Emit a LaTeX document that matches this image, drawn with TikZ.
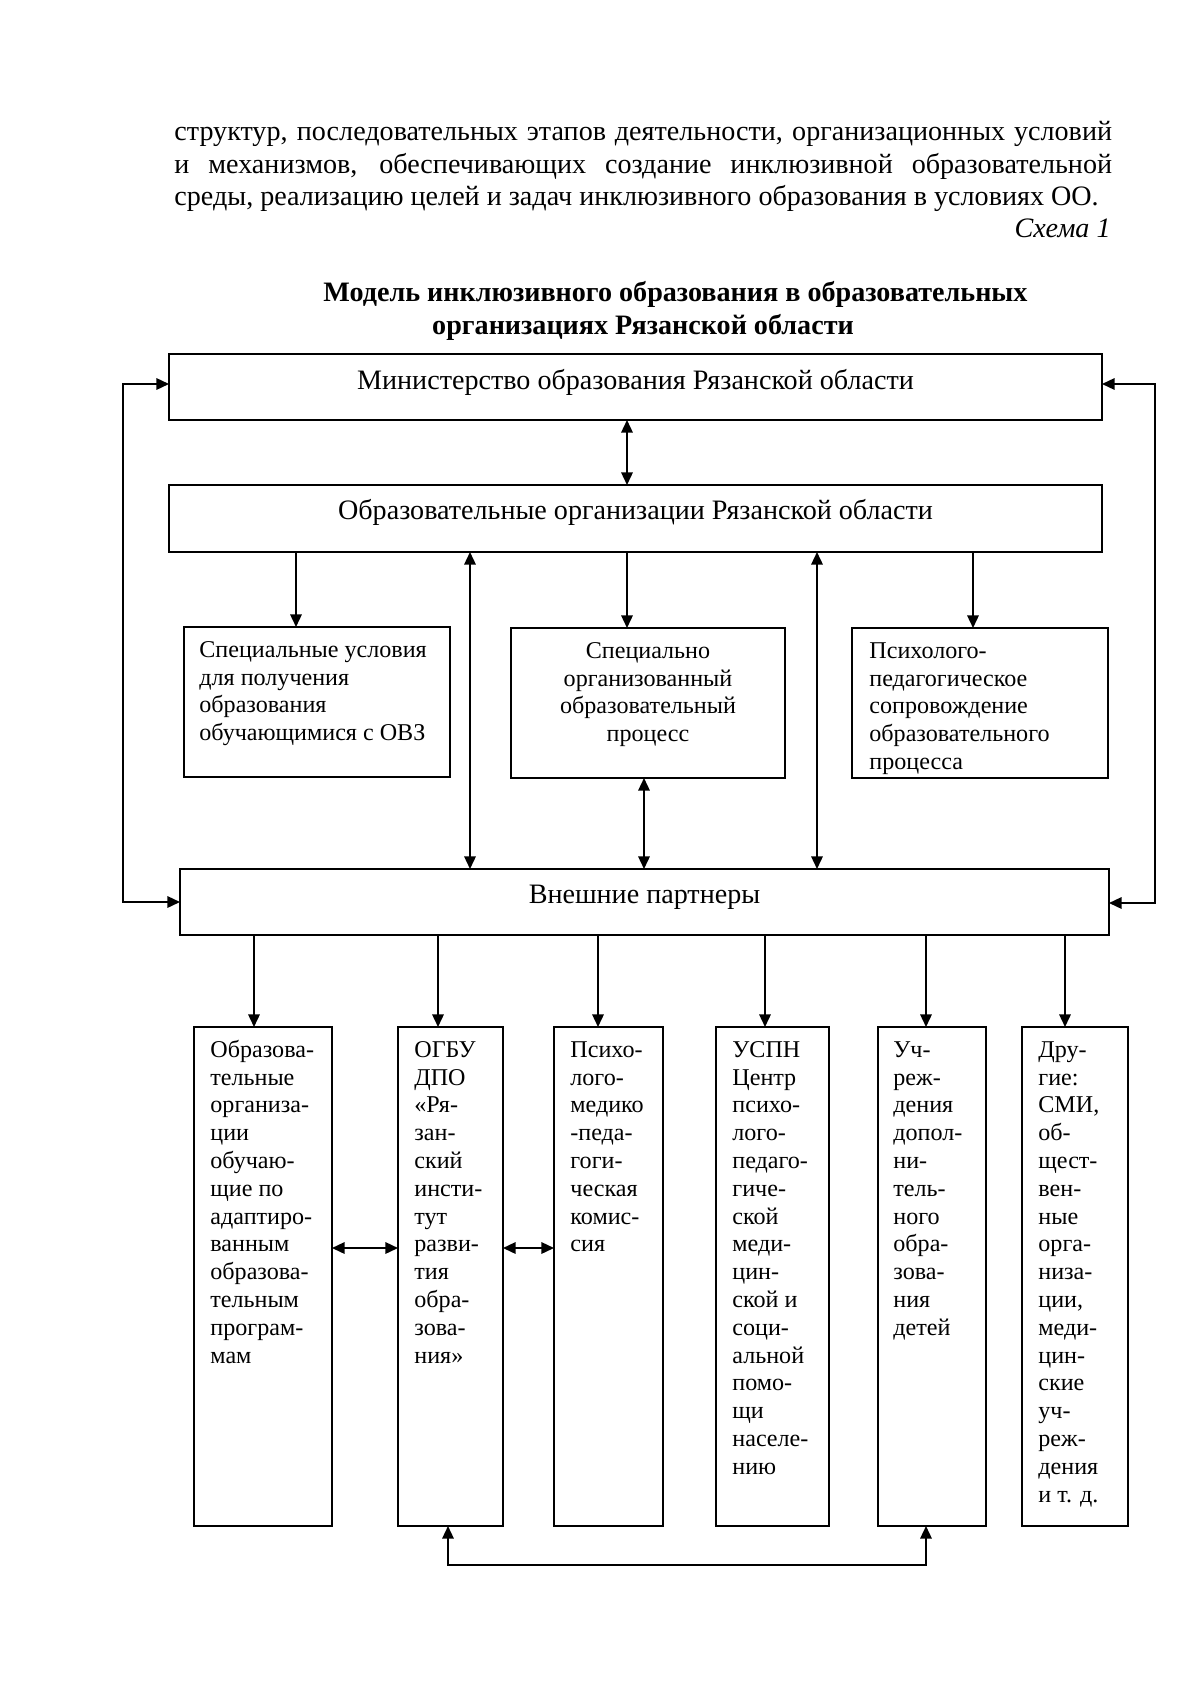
\documentclass[tikz,border=0pt]{standalone}
\usepackage{fontspec}
\setmainfont{Liberation Serif}
\usetikzlibrary{arrows.meta,calc}
\newcommand\mkbox[5]{\node[bx, minimum width={(#4-#2)*0.175mm}, minimum height={(#5-#3)*0.175mm}] (#1) at (#2,#3) {};}
\begin{document}
\begin{tikzpicture}[x=0.175mm,y=-0.175mm,
  bx/.style={draw, line width=0.37mm, inner sep=0pt, outer sep=0pt, anchor=north west},
  >={Triangle[length=2.2mm,width=2mm]},
  conn/.style={line width=0.32mm, ->},
  dconn/.style={line width=0.32mm, <->},
  t14/.style={font=\fontsize{14pt}{16.1pt}\selectfont, inner sep=0pt},
  t12/.style={font=\fontsize{12pt}{13.84pt}\selectfont, inner sep=0pt},
  ml/.style={t12, align=left, anchor=north west},
  mc/.style={t12, align=center, anchor=north}
]
\useasboundingbox (0,0) rectangle (1200,1697);
\fill[white] (0,0) rectangle (1200,1697);

% paragraph
\node[t14, anchor=base west] (p1) at (174,141) {\makebox[164.1mm][s]{структур, последовательных этапов деятельности, организационных условий}};
\node[t14, anchor=base west] (p2) at (174,173.5) {\makebox[164.1mm][s]{и механизмов, обеспечивающих создание инклюзивной образовательной}};
\node[t14, anchor=base west] (p3) at (174,206) {среды, реализацию целей и задач инклюзивного образования в условиях ОО.};
\node[t14, anchor=base east] (sch) at (1111,238) {\itshape Схема 1};

% title
\node[t14, anchor=base west] (ti1) at (323,302) {\bfseries Модель инклюзивного образования в образовательных};
\node[t14, anchor=base] (ti2) at (643,334) {\bfseries организациях Рязанской области};

% boxes
\mkbox{min}{169}{354}{1102}{420}
\mkbox{org}{169}{485}{1102}{552}
\mkbox{s1}{184}{627}{450}{777}
\mkbox{s2}{511}{628}{785}{778}
\mkbox{s3}{852}{628}{1108}{778}
\mkbox{ext}{180}{869}{1109}{935}
\mkbox{b1}{194}{1027}{332}{1526}
\mkbox{b2}{398}{1027}{503}{1526}
\mkbox{b3}{554}{1027}{663}{1526}
\mkbox{b4}{716}{1027}{829}{1526}
\mkbox{b5}{878}{1027}{986}{1526}
\mkbox{b6}{1022}{1027}{1128}{1526}

% box texts
\node[t14, anchor=base] (mint) at ($(min.north)+(0,35)$) {Министерство образования Рязанской области};
\node[t14, anchor=base] (orgt) at ($(org.north)+(0,34)$) {Образовательные организации Рязанской области};
\node[t14, anchor=base] (extt) at ($(ext.north)+(0,34)$) {Внешние партнеры};

\node[ml] (s1t) at ($(s1.north west)+(15,10.5)$) {\strut Специальные условия\\для получения\\образования\\обучающимися с ОВЗ};
\node[mc] (s2t) at ($(s2.north)+(0,10.5)$) {\strut Специально\\организованный\\образовательный\\процесс};
\node[ml] (s3t) at ($(s3.north west)+(17,10.5)$) {\strut Психолого-\\педагогическое\\сопровождение\\образовательного\\процесса};

\node[ml] (b1t) at ($(b1.north west)+(16,10.5)$) {\strut Образова-\\тельные\\организа-\\ции\\обучаю-\\щие по\\адаптиро-\\ванным\\образова-\\тельным\\програм-\\мам};
\node[ml] (b2t) at ($(b2.north west)+(16,10.5)$) {\strut ОГБУ\\ДПО\\«Ря-\\зан-\\ский\\инсти-\\тут\\разви-\\тия\\обра-\\зова-\\ния»};
\node[ml] (b3t) at ($(b3.north west)+(16,10.5)$) {\strut Психо-\\лого-\\медико\\-педа-\\гоги-\\ческая\\комис-\\сия};
\node[ml] (b4t) at ($(b4.north west)+(16,10.5)$) {\strut УСПН\\Центр\\психо-\\лого-\\педаго-\\гиче-\\ской\\меди-\\цин-\\ской и\\соци-\\альной\\помо-\\щи\\населе-\\нию};
\node[ml] (b5t) at ($(b5.north west)+(15,10.5)$) {\strut Уч-\\реж-\\дения\\допол-\\ни-\\тель-\\ного\\обра-\\зова-\\ния\\детей};
\node[ml] (b6t) at ($(b6.north west)+(16,10.5)$) {\strut Дру-\\гие:\\СМИ,\\об-\\щест-\\вен-\\ные\\орга-\\низа-\\ции,\\меди-\\цин-\\ские\\уч-\\реж-\\дения\\и т. д.};

% x guides
\coordinate (xa) at (627,0);
\coordinate (xs1) at (296,0);
\coordinate (xs3) at (973,0);
\coordinate (xl1) at (470,0);
\coordinate (xl2) at (817,0);
\coordinate (xse) at (644,0);
\coordinate (xb1) at (254,0);
\coordinate (xb2) at (438,0);
\coordinate (xb3) at (598,0);
\coordinate (xb4) at (765,0);
\coordinate (xb5) at (926,0);
\coordinate (xb6) at (1065,0);
\coordinate (yh) at (0,1248);

% connectors
\draw[dconn] (min.south -| xa) -- (org.north -| xa);
\draw[conn] (org.south -| xs1) -- (s1.north -| xs1);
\draw[conn] (org.south -| xa) -- (s2.north -| xa);
\draw[conn] (org.south -| xs3) -- (s3.north -| xs3);
\draw[dconn] (org.south -| xl1) -- (ext.north -| xl1);
\draw[dconn] (org.south -| xl2) -- (ext.north -| xl2);
\draw[dconn] (s2.south -| xse) -- (ext.north -| xse);

\coordinate (lt) at (123,384);
\coordinate (lb) at (123,902);
\coordinate (rt) at (1155,384);
\coordinate (rb) at (1155,903);
\draw[dconn] (min.west |- lt) -- (lt) -- (lb) -- (ext.west |- lb);
\draw[dconn] (min.east |- rt) -- (rt) -- (rb) -- (ext.east |- rb);

\draw[conn] (ext.south -| xb1) -- (b1.north -| xb1);
\draw[conn] (ext.south -| xb2) -- (b2.north -| xb2);
\draw[conn] (ext.south -| xb3) -- (b3.north -| xb3);
\draw[conn] (ext.south -| xb4) -- (b4.north -| xb4);
\draw[conn] (ext.south -| xb5) -- (b5.north -| xb5);
\draw[conn] (ext.south -| xb6) -- (b6.north -| xb6);

\draw[dconn] (b1.east |- yh) -- (b2.west |- yh);
\draw[dconn] (b2.east |- yh) -- (b3.west |- yh);

\coordinate (bl) at (448,1565);
\coordinate (br) at (926,1565);
\draw[dconn] (b2.south -| bl) -- (bl) -- (br) -- (b5.south -| br);
\end{tikzpicture}
\end{document}
